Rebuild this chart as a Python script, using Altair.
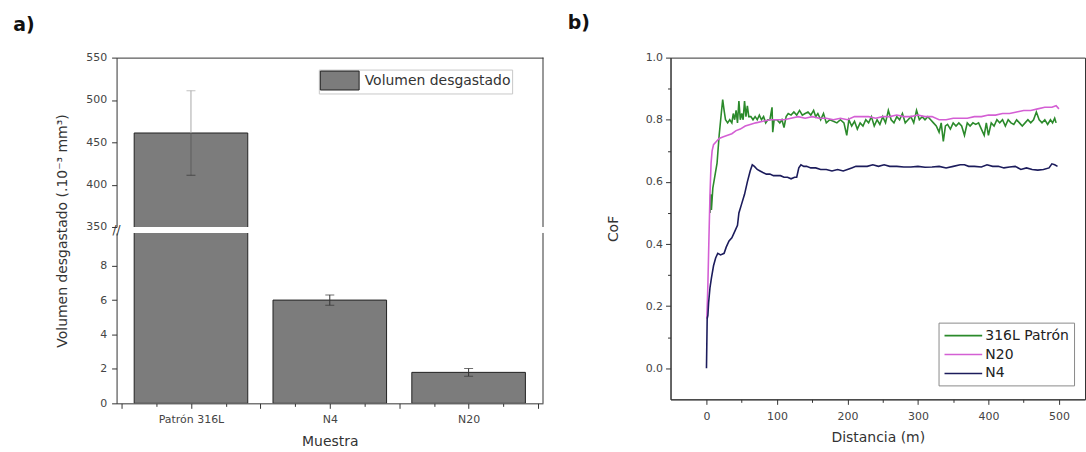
import altair as alt
import pandas as pd

FONT = "DejaVu Sans"
TXT = "#333333"

# ---------------- panel a) data ----------------
samples = ["Patrón 316L", "N4", "N20"]
volume = [461.0, 6.0, 1.8]
volume_err = [50.0, 0.3, 0.22]
bar_series = "Volumen desgastado"

upper_ticks = [350, 375, 400, 425, 450, 475, 500, 525, 550]
lower_ticks = [0, 1, 2, 3, 4, 5, 6, 7, 8, 9]
x_bar_ticks = [-0.5, -0.25, 0, 0.25, 0.5, 0.75, 1, 1.25, 1.5, 1.75, 2, 2.25, 2.5]

# ---------------- panel b) data ----------------
dist_316 = [5, 6, 7, 9, 12, 15, 18, 21, 23, 25, 27, 30, 33, 36, 38, 40, 42, 44, 46, 48,
            50, 52, 54, 56, 58, 60, 63, 66, 69, 72, 75, 78, 81, 84, 87, 90, 93, 94, 96, 100,
            104, 107, 110, 113, 116, 120, 124, 128, 132, 136, 140, 144, 148, 152, 155, 158, 162, 166, 170, 175,
            180, 185, 190, 195, 199, 202, 206, 210, 214, 218, 222, 226, 230, 234, 238, 242, 246, 250, 254, 258,
            262, 266, 270, 274, 278, 282, 286, 290, 294, 298, 302, 306, 310, 314, 318, 322, 326, 330, 333, 336,
            339, 342, 346, 350, 354, 358, 362, 366, 370, 374, 378, 382, 386, 390, 394, 397, 400, 404, 408, 412,
            416, 420, 424, 428, 432, 436, 440, 444, 448, 452, 456, 460, 464, 468, 472, 476, 480, 484, 488, 491,
            494, 496]
cof_316 = [0.50, 0.56, 0.51, 0.58, 0.62, 0.66, 0.75, 0.82, 0.865, 0.83, 0.80, 0.79, 0.80, 0.79, 0.82, 0.80, 0.83, 0.79, 0.86, 0.80,
           0.82, 0.80, 0.86, 0.81, 0.845, 0.81, 0.81, 0.80, 0.81, 0.80, 0.815, 0.80, 0.81, 0.79, 0.80, 0.80, 0.84, 0.76, 0.80, 0.80,
           0.79, 0.80, 0.775, 0.81, 0.82, 0.815, 0.825, 0.815, 0.83, 0.815, 0.82, 0.825, 0.815, 0.83, 0.81, 0.82, 0.80, 0.82, 0.79, 0.80,
           0.795, 0.79, 0.80, 0.79, 0.75, 0.80, 0.78, 0.795, 0.77, 0.79, 0.78, 0.80, 0.79, 0.81, 0.78, 0.80, 0.785, 0.81, 0.79, 0.83,
           0.80, 0.79, 0.81, 0.80, 0.82, 0.79, 0.80, 0.81, 0.79, 0.83, 0.80, 0.81, 0.80, 0.81, 0.80, 0.79, 0.78, 0.76, 0.79, 0.73,
           0.78, 0.785, 0.77, 0.79, 0.78, 0.79, 0.78, 0.75, 0.79, 0.78, 0.79, 0.785, 0.79, 0.77, 0.75, 0.79, 0.75, 0.79, 0.78, 0.80,
           0.79, 0.80, 0.78, 0.80, 0.79, 0.785, 0.80, 0.79, 0.78, 0.79, 0.80, 0.79, 0.80, 0.825, 0.80, 0.79, 0.80, 0.785, 0.80, 0.79,
           0.805, 0.79]

dist_n20 = [0.5, 2, 3.5, 5, 6.5, 8, 10, 14, 18, 24, 30, 36, 42, 48, 55, 62, 70, 80, 90, 100,
            110, 120, 130, 140, 150, 160, 170, 180, 190, 200, 210, 220, 230, 240, 250, 260, 270, 280, 290, 300,
            310, 320, 330, 340, 350, 360, 370, 380, 390, 400, 410, 420, 430, 440, 450, 460, 470, 480, 490, 496, 500]
cof_n20 = [0.16, 0.27, 0.42, 0.56, 0.66, 0.70, 0.72, 0.73, 0.74, 0.745, 0.75, 0.755, 0.765, 0.77, 0.78, 0.785, 0.79, 0.795, 0.80, 0.80,
           0.80, 0.805, 0.81, 0.805, 0.81, 0.805, 0.805, 0.80, 0.805, 0.80, 0.81, 0.81, 0.81, 0.805, 0.81, 0.81, 0.815, 0.81, 0.81, 0.815,
           0.81, 0.81, 0.80, 0.80, 0.805, 0.805, 0.805, 0.81, 0.81, 0.815, 0.815, 0.82, 0.82, 0.825, 0.83, 0.83, 0.835, 0.84, 0.84, 0.845, 0.835]

dist_n4 = [0, 0.5, 1, 2, 3, 5, 7, 10, 13, 16, 20, 25, 28, 32, 36, 40, 44, 46, 50, 54,
           58, 62, 65, 68, 72, 76, 80, 85, 90, 95, 100, 105, 110, 115, 120, 125, 128, 131, 134, 138,
           142, 148, 155, 162, 170, 178, 186, 194, 200, 206, 212, 220, 228, 236, 244, 252, 260, 270, 280, 290,
           300, 310, 320, 330, 340, 350, 360, 366, 372, 380, 390, 398, 406, 414, 422, 430, 438, 446, 454, 462,
           470, 478, 486, 490, 494, 498]
cof_n4 = [0.0, 0.08, 0.16, 0.17, 0.21, 0.26, 0.29, 0.33, 0.355, 0.37, 0.365, 0.37, 0.39, 0.41, 0.42, 0.44, 0.46, 0.50, 0.53, 0.56,
          0.60, 0.635, 0.655, 0.65, 0.64, 0.635, 0.63, 0.625, 0.625, 0.62, 0.62, 0.62, 0.615, 0.615, 0.61, 0.615, 0.615, 0.645, 0.655, 0.65,
          0.65, 0.645, 0.645, 0.64, 0.64, 0.635, 0.64, 0.635, 0.64, 0.645, 0.65, 0.65, 0.65, 0.655, 0.65, 0.655, 0.65, 0.65, 0.648, 0.648,
          0.65, 0.647, 0.648, 0.65, 0.645, 0.65, 0.655, 0.655, 0.65, 0.65, 0.648, 0.655, 0.65, 0.65, 0.645, 0.648, 0.65, 0.64, 0.645, 0.64,
          0.638, 0.64, 0.645, 0.658, 0.655, 0.65]

series_names = ["316L Patrón", "N20", "N4"]
series_colors = ["#2b8a2b", "#d45fd4", "#1c1c5c"]
cof_ticks = [0.0, 0.1, 0.2, 0.3, 0.4, 0.5, 0.6, 0.7, 0.8, 0.9, 1.0]
dist_ticks = [0, 50, 100, 150, 200, 250, 300, 350, 400, 450, 500]

# ---------------- tables ----------------
bars = pd.DataFrame({"idx": list(range(len(samples))), "sample": samples,
                     "vol": volume, "err": volume_err})
bars["hi"] = bars["vol"] + bars["err"]
bars["lo"] = bars["vol"] - bars["err"]
bars["serie"] = bar_series

frames = []
for name, xs_, ys_ in [(series_names[0], dist_316, cof_316),
                       (series_names[1], dist_n20, cof_n20),
                       (series_names[2], dist_n4, cof_n4)]:
    frames.append(pd.DataFrame({"serie": name, "dist": xs_, "cof": ys_}))
lines = pd.concat(frames, ignore_index=True)

one = pd.DataFrame({"k": [0]})

BAR_FILL = "#7c7c7c"
W, H_UP, H_LO, GAP = 428, 170, 171, 6
BAR_PX = 114

lab_expr = " : ".join(f"datum.value == {i} ? '{s}'" for i, s in enumerate(samples)) + " : ''"
xscale = alt.Scale(domain=[-0.5, len(samples) - 0.5], nice=False, zero=False)
cap_col = alt.condition(alt.datum.idx == 0, alt.value("#a8a8a8"), alt.value("#333333"))
low_col = alt.condition(alt.datum.idx == 0, alt.value("#5e5e5e"), alt.value("#333333"))

# ---------------- upper part of a) ----------------
x_up = alt.X("idx:Q", scale=xscale,
             axis=alt.Axis(orient="top", labels=False, ticks=False, title=None, domain=True))
y_up = alt.Y("vol:Q", scale=alt.Scale(domain=[350, 550], nice=False, zero=False),
             axis=alt.Axis(values=upper_ticks,
                           labelExpr="datum.value % 50 == 0 ? datum.label : ''",
                           tickSize={"condition": {"test": "datum.value % 50 == 0", "value": 5}, "value": 3},
                           title="Volumen desgastado (.10⁻³ mm³)",
                           titleX=-54, titleY=(H_UP + GAP + H_LO) / 2, titleBaseline="middle"))

base_up = alt.Chart(bars)
bars_up = base_up.mark_bar(size=BAR_PX, clip=True, stroke="#222222", strokeWidth=1).encode(
    x=x_up, y=y_up,
    color=alt.Color("serie:N", scale=alt.Scale(domain=[bar_series], range=[BAR_FILL]),
                    legend=alt.Legend(title=None, orient="none", legendX=203, legendY=12,
                                      symbolType="M-1,-1H3.1V1H-1Z", symbolSize=361,
                                      symbolStrokeColor="#222222", symbolStrokeWidth=1,
                                      symbolOpacity=1, symbolFillColor=BAR_FILL,
                                      labelFontSize=14, labelFont=FONT, labelColor=TXT,
                                      labelLimit=400, labelOffset=25, padding=1,
                                      strokeColor="#c8c8c8", fillColor="white")))
err_up_hi = base_up.mark_rule(clip=True, strokeWidth=1).encode(
    x=x_up, y="vol:Q", y2="hi:Q", color=cap_col)
err_up_lo = base_up.mark_rule(clip=True, strokeWidth=1).encode(
    x=x_up, y="lo:Q", y2="vol:Q", color=low_col)
cap_up_hi = base_up.mark_tick(clip=True, orient="horizontal", size=9, thickness=1).encode(
    x=x_up, y="hi:Q", color=cap_col)
cap_up_lo = base_up.mark_tick(clip=True, orient="horizontal", size=9, thickness=1, color="#333333").encode(
    x=x_up, y="lo:Q")
border_up = alt.Chart(one).mark_rule(color=TXT).encode(
    x=alt.value(W), y=alt.value(0), y2=alt.value(H_UP))
label_a = alt.Chart(one).mark_text(text="a)", font=FONT, fontSize=19, fontWeight="bold",
                                   color="#111111", align="center", baseline="middle").encode(
    x=alt.value(23 - 116), y=alt.value(22 - 55))
brk = alt.Chart(one).mark_text(text="//", font=FONT, fontSize=12, color=TXT,
                               align="center", baseline="middle").encode(
    x=alt.value(0), y=alt.value(H_UP + GAP / 2))

upper = alt.layer(bars_up, err_up_hi, err_up_lo, cap_up_hi, cap_up_lo, border_up, label_a, brk).properties(
    width=W, height=H_UP, view=alt.ViewBackground(stroke=None))

# ---------------- lower part of a) ----------------
x_lo = alt.X("idx:Q", scale=xscale,
             axis=alt.Axis(values=x_bar_ticks, labelExpr=lab_expr, title="Muestra",
                           tickSize={"condition": {"test": "datum.value % 0.5 == 0", "value": 5}, "value": 3},
                           labelPadding=5, titlePadding=10, labelFontSize=11))
y_lo = alt.Y("vol:Q", scale=alt.Scale(domain=[0, 9.9], nice=False),
             axis=alt.Axis(values=lower_ticks,
                           labelExpr="datum.value % 2 == 0 ? datum.label : ''",
                           tickSize={"condition": {"test": "datum.value % 2 == 0", "value": 5}, "value": 3},
                           title=None))
base_lo = alt.Chart(bars)
bars_lo = base_lo.mark_bar(size=BAR_PX, clip=True, stroke="#222222", strokeWidth=1,
                           color=BAR_FILL).encode(x=x_lo, y=y_lo)
err_lo_hi = base_lo.mark_rule(clip=True, strokeWidth=1).encode(x=x_lo, y="vol:Q", y2="hi:Q", color=cap_col)
err_lo_lo = base_lo.mark_rule(clip=True, strokeWidth=1).encode(x=x_lo, y="lo:Q", y2="vol:Q", color=low_col)
cap_lo_hi = base_lo.mark_tick(clip=True, orient="horizontal", size=9, thickness=1).encode(
    x=x_lo, y="hi:Q", color=cap_col)
cap_lo_lo = base_lo.mark_tick(clip=True, orient="horizontal", size=9, thickness=1, color="#333333").encode(
    x=x_lo, y="lo:Q")
border_lo = alt.Chart(one).mark_rule(color=TXT).encode(
    x=alt.value(W), y=alt.value(0), y2=alt.value(H_LO))

lower = alt.layer(bars_lo, err_lo_hi, err_lo_lo, cap_lo_hi, cap_lo_lo, border_lo).properties(
    width=W, height=H_LO, view=alt.ViewBackground(stroke=None))

left = alt.vconcat(upper, lower, spacing=GAP, bounds="flush").resolve_legend(color="independent")

# ---------------- panel b) ----------------
RW, RH = 416, 343
x_r = alt.X("dist:Q", scale=alt.Scale(domain=[-51, 537], nice=False, zero=False),
            axis=alt.Axis(values=dist_ticks,
                          labelExpr="datum.value % 100 == 0 ? datum.label : ''",
                          tickSize={"condition": {"test": "datum.value % 100 == 0", "value": 5}, "value": 3},
                          title="Distancia (m)", labelPadding=6, titlePadding=9))
y_r = alt.Y("cof:Q", scale=alt.Scale(domain=[-0.1, 1.0], nice=False, zero=False),
            axis=alt.Axis(values=cof_ticks,
                          labelExpr="round(datum.value * 10) % 2 == 0 ? format(datum.value, '.1f') : ''",
                          tickSize={"condition": {"test": "round(datum.value * 10) % 2 == 0", "value": 5}, "value": 3},
                          title="CoF", titleX=-57, titleY=RH / 2, titleBaseline="middle", labelPadding=3))
cof_lines = alt.Chart(lines).mark_line(strokeWidth=1.6, clip=True).encode(
    x=x_r, y=y_r,
    color=alt.Color("serie:N", sort=series_names,
                    scale=alt.Scale(domain=series_names, range=series_colors),
                    legend=alt.Legend(title=None, orient="none", legendX=269, legendY=266,
                                      symbolType="M-1,0H4.4", symbolSize=196, symbolStrokeWidth=1.6,
                                      labelFontSize=14, labelFont=FONT, labelColor="#222222",
                                      labelOffset=26, padding=5, rowPadding=4,
                                      strokeColor="#8a8a8a", fillColor="white")),
    order=alt.Order("dist:Q"),
    detail="serie:N")
label_b = alt.Chart(one).mark_text(text="b)", font=FONT, fontSize=19, fontWeight="bold",
                                   color="#111111", align="center", baseline="middle").encode(
    x=alt.value(577 - 669), y=alt.value(22 - 57))
right = alt.layer(cof_lines, label_b).properties(
    width=RW, height=RH, view=alt.ViewBackground(stroke="#333333", strokeWidth=1))

chart = alt.hconcat(left, right, spacing=23).resolve_scale(color="independent").resolve_legend(
    color="independent").properties(
    padding={"left": 13, "top": 12, "right": 0, "bottom": 0},
    background="white"
).configure_axis(
    labelFont=FONT, labelFontSize=11, labelColor="#444444",
    titleFont=FONT, titleFontSize=14, titleColor=TXT, titleFontWeight="normal",
    domainColor=TXT, tickColor=TXT, grid=False, labelPadding=5
).configure_view(stroke=None)

chart.save("out.html", embed_options={"renderer": "svg", "actions": False})
